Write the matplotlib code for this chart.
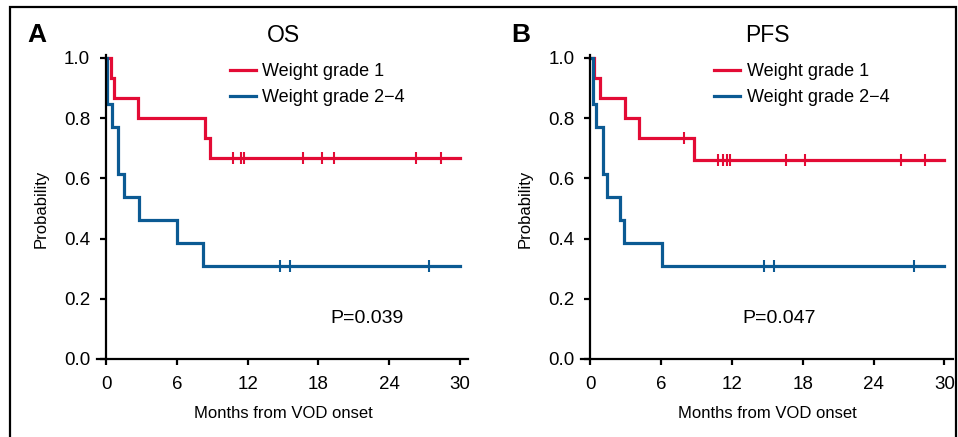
import matplotlib
matplotlib.use("Agg")
import matplotlib.pyplot as plt
from matplotlib.patches import Rectangle
from matplotlib.lines import Line2D

# ---- data (months, survival probability) ----
os_g1_t = [0, 0.4, 0.7, 2.75, 8.4, 8.8, 30]
os_g1_s = [1.0, 0.933, 0.867, 0.800, 0.733, 0.667, 0.667]
os_g1_cens = [10.8, 11.4, 11.7, 16.7, 18.3, 19.3, 26.3, 28.4]

os_g2_t = [0, 0.1, 0.5, 1.0, 1.5, 2.8, 6.05, 8.25, 30]
os_g2_s = [1.0, 0.846, 0.769, 0.615, 0.538, 0.462, 0.385, 0.308, 0.308]
os_g2_cens = [14.7, 15.6, 27.4]

pfs_g1_t = [0, 0.35, 0.85, 2.9, 4.1, 8.8, 30]
pfs_g1_s = [1.0, 0.933, 0.867, 0.800, 0.733, 0.662, 0.662]
pfs_g1_cens = [7.9, 10.8, 11.25, 11.6, 11.8, 16.6, 18.2, 26.3, 28.4]

pfs_g2_t = [0, 0.2, 0.5, 1.05, 1.4, 2.5, 2.85, 6.1, 30]
pfs_g2_s = [1.0, 0.846, 0.769, 0.615, 0.538, 0.462, 0.385, 0.308, 0.308]
pfs_g2_cens = [14.7, 15.6, 27.4]

panels = [
    ("A", "OS", "P=0.039", 19.0, (os_g1_t, os_g1_s, os_g1_cens), (os_g2_t, os_g2_s, os_g2_cens)),
    ("B", "PFS", "P=0.047", 12.9, (pfs_g1_t, pfs_g1_s, pfs_g1_cens), (pfs_g2_t, pfs_g2_s, pfs_g2_cens)),
]
labels = ["Weight grade 1", "Weight grade 2\u22124"]
colors = ["#e30b35", "#0b5a93"]
xticks = [0, 6, 12, 18, 24, 30]
yticks = [0.0, 0.2, 0.4, 0.6, 0.8, 1.0]

plt.rcParams["font.family"] = ["Liberation Sans", "DejaVu Sans"]

fig = plt.figure(figsize=(9.58, 4.37), dpi=100)

# black frame around the figure
fig.patches.append(Rectangle((10 / 958, -0.1), 946 / 958, 1.084, transform=fig.transFigure,
                             fill=False, edgecolor="black", linewidth=1.6))

lefts = [0.1008, 0.6063]
letter_x = [27 / 958, 511 / 958]

for i, (letter, title, ptxt, px, g1, g2) in enumerate(panels):
    ax = fig.add_axes([lefts[i], 0.158, 0.3893, 0.730])
    for (t, s, cens), c, lab in zip([g1, g2], colors, labels):
        ax.step(t, s, where="post", color=c, lw=2.3, label=lab, solid_joinstyle="miter")
        # censor marks
        cy = [s[max(j for j in range(len(t)) if t[j] <= x)] for x in cens]
        ax.plot(cens, cy, ls="none", marker="|", ms=8, mew=1.5, color=c)

    ax.set_xlim(-0.8, 30.8)
    ax.set_ylim(-0.03, 1.03)
    for side in ["top", "right"]:
        ax.spines[side].set_visible(False)
    ax.spines["left"].set_position(("data", 0))
    ax.spines["bottom"].set_position(("data", 0))
    ax.spines["left"].set_bounds(0, 1.01)
    ax.spines["bottom"].set_bounds(-0.75, 30.7)
    for side in ["left", "bottom"]:
        ax.spines[side].set_linewidth(1.6)
    ax.set_xticks(xticks)
    ax.set_yticks(yticks)
    ax.set_yticklabels([f"{v:.1f}" for v in yticks])
    ax.tick_params(width=1.6, length=4.5, labelsize=13.5)
    ax.tick_params(axis="y", pad=7)
    ax.tick_params(axis="x", pad=8)
    ax.patch.set_visible(False)

    ax.set_xlabel("Months from VOD onset", fontsize=12, labelpad=9)
    ax.set_ylabel("Probability", fontsize=12, labelpad=11)

    ax.text(15, 1.076, title, ha="center", va="center", fontsize=16.5)
    ax.text(px, 0.133, ptxt, ha="left", va="center", fontsize=14)
    fig.text(letter_x[i], 1 - 35 / 437, letter, fontsize=19, fontweight="bold", ha="left", va="center")

    handles = [Line2D([], [], color=c, lw=2.3) for c in colors]
    ax.legend(handles, labels, loc="upper left", bbox_to_anchor=((230 - 96.6) / 372.9, 0.955),
              frameon=False, fontsize=13, handlelength=1.45, handletextpad=0.35,
              labelspacing=0.5, borderpad=0, borderaxespad=0)

fig.savefig("out.png", dpi=100)
